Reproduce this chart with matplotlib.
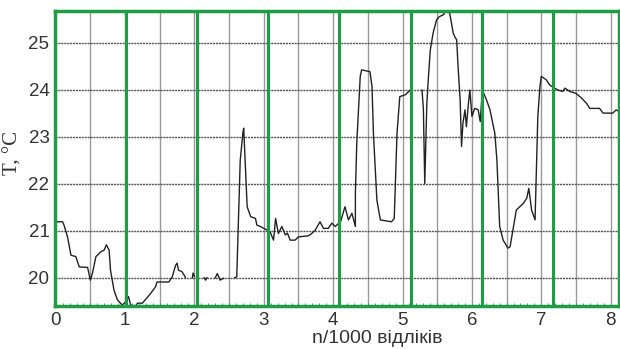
import numpy as np
import matplotlib.pyplot as plt

nan = np.nan

# n/1000 samples and temperature (nan = gap in record)
n_k = [0.02, 0.10, 0.12, 0.17, 0.22, 0.29, 0.34, 0.46, 0.50, 0.53, 0.58, 0.65, 0.70, 0.73,
       0.77, 0.79, 0.84, 0.89, 0.96, 1.01, 1.05, 1.08, 1.15, 1.18, 1.25, 1.29, 1.37, 1.44,
       1.46, 1.63, 1.68, 1.73, 1.75, 1.77, 1.82, 1.87, 1.90,
       1.97, 1.98, 2.00, 2.01,
       2.14, 2.16, 2.18, 2.20,
       2.30, 2.33, 2.37, 2.42, 2.44,
       2.58, 2.61, 2.66, 2.70, 2.71, 2.73, 2.76, 2.81, 2.88, 2.90, 2.95, 3.00, 3.05, 3.09,
       3.14, 3.17, 3.21, 3.26, 3.31, 3.34, 3.38, 3.45, 3.50, 3.64, 3.69, 3.74, 3.81, 3.86,
       3.93, 3.98, 4.03, 4.08, 4.10, 4.17, 4.22, 4.27, 4.32, 4.32, 4.34, 4.39, 4.41, 4.53,
       4.56, 4.58, 4.63, 4.68, 4.84, 4.88, 4.92, 4.96, 5.04, 5.11,
       5.27, 5.28, 5.30, 5.31, 5.32, 5.35, 5.37, 5.40, 5.44, 5.49, 5.53, 5.59, 5.63, 5.68,
       5.73, 5.76, 5.78, 5.80, 5.83, 5.85, 5.87, 5.90, 5.92, 5.95, 5.97, 6.00, 6.04, 6.09,
       6.12, 6.15, 6.21, 6.26, 6.33, 6.36, 6.38, 6.40, 6.45, 6.52, 6.55, 6.60, 6.64, 6.69,
       6.74, 6.79, 6.82, 6.86, 6.91, 6.93, 6.95, 6.98, 7.00, 7.07, 7.12, 7.17, 7.24, 7.31,
       7.34, 7.41, 7.50, 7.58, 7.65, 7.70, 7.84, 7.89, 8.03, 8.08, 8.12]
temp = [21.19, 21.19, 21.12, 20.87, 20.48, 20.45, 20.23, 20.22, 19.95, 20.10, 20.45, 20.55,
        20.59, 20.70, 20.59, 20.16, 19.74, 19.53, 19.42, 19.49, 19.60, 19.42, 19.40, 19.46,
        19.46, 19.53, 19.67, 19.81, 19.91, 19.91, 20.02, 20.27, 20.31, 20.16, 20.13, 20.01, nan,
        20.00, 20.10, 20.03, nan,
        20.00, 19.95, 20.00, nan,
        20.00, 20.09, 19.95, 19.99, nan,
        20.00, 20.02, 22.50, 23.10, 23.18, 22.50, 21.51, 21.30, 21.26, 21.12, 21.09, 21.05,
        21.01, 20.98, 20.80, 21.26, 20.94, 21.09, 20.91, 20.95, 20.80, 20.80, 20.87, 20.89,
        20.94, 21.01, 21.19, 21.05, 21.05, 21.16, 21.09, 21.16, 21.16, 21.51, 21.23, 21.37,
        21.09, 21.80, 22.86, 24.28, 24.42, 24.38, 24.06, 23.07, 21.65, 21.23, 21.19, 21.26,
        23.07, 23.85, 23.89, 23.99, nan,
        23.99, 23.60, 22.80, 22.00, 23.70, 24.20, 24.84, 25.20, 25.48, 25.55, 25.59, 25.70,
        25.62, 25.20, 25.10, 25.06, 24.49, 23.78, 22.79, 23.28, 23.57, 23.21, 23.71, 23.99,
        23.43, 23.60, 23.57, 23.32, 23.99, 23.78, 23.57, 23.07, 22.50, 21.80, 21.09, 20.80,
        20.63, 20.66, 21.09, 21.44, 21.51, 21.58, 21.69, 21.90, 21.44, 21.23, 22.36, 23.43,
        24.06, 24.28, 24.21, 24.10, 24.05, 23.99, 23.96, 24.03, 23.96, 23.92, 23.82, 23.71,
        23.60, 23.60, 23.50, 23.50, 23.57, 23.53]

green_x = [1.01, 2.04, 3.06, 4.09, 5.12, 6.14, 7.17]
x_ticks = [0, 1, 2, 3, 4, 5, 6, 7, 8]
y_ticks = [20, 21, 22, 23, 24, 25]

green = '#1f9d45'
tick_font = ['Liberation Sans Narrow', 'Liberation Sans', 'DejaVu Sans']

fig = plt.figure(figsize=(6.2, 3.49), dpi=100)
ax = fig.add_axes([55 / 620, 1 - 306 / 349, 564 / 620, 295 / 349])

ax.set_xlim(-0.01, 8.12)
ax.set_ylim(19.4, 25.67)

for v in np.arange(0.5, 8.1, 0.5):
    ax.axvline(v, color='#9a9a9a', lw=1.0, zorder=1)
for v in y_ticks:
    ax.axhline(v, color='#555555', lw=1.0, ls=(0, (1.5, 0.6)), zorder=1)

for v in green_x:
    ax.axvline(v, color=green, lw=2.2, zorder=3)

ax.plot(n_k, temp, color='#222222', lw=1.0, zorder=2)

for s in ax.spines.values():
    s.set_color(green)
    s.set_linewidth(2.5)

ax.set_xticks(x_ticks)
ax.set_yticks(y_ticks)
ax.set_xticks(np.arange(0, 8.15, 0.1), minor=True)
ax.tick_params(axis='both', which='major', length=0, labelsize=13.5, colors='#333333', pad=4)
ax.tick_params(axis='x', which='minor', direction='in', length=2, color='#666666')
for lab in ax.get_xticklabels() + ax.get_yticklabels():
    lab.set_family(tick_font)

ax.set_ylabel('T, °C', family=['Liberation Serif', 'DejaVu Serif'], fontsize=15, color='#333333')
ax.yaxis.set_label_coords(-0.058, 0.52)
ax.set_xlabel('n/1000 відліків', family=['Liberation Sans', 'DejaVu Sans'], fontsize=14,
              color='#333333', labelpad=0)
ax.xaxis.set_label_coords(0.571, -0.082)

fig.savefig('out.png', dpi=100)
